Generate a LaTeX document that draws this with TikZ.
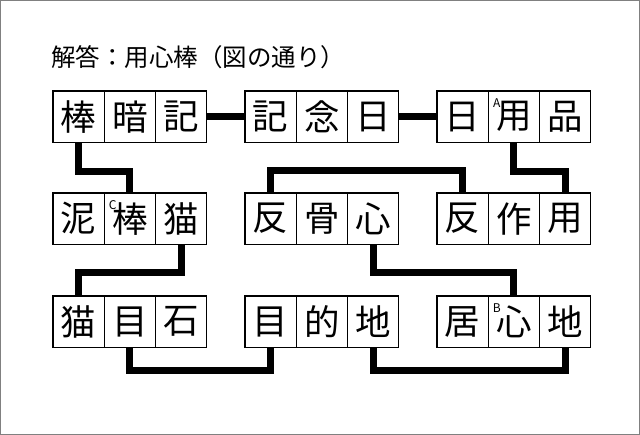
\documentclass[tikz,border=0pt]{standalone}
\usepackage{fontspec}
\newfontfamily\cjk{Noto Sans CJK JP}
\usetikzlibrary{positioning}

\begin{document}
\begin{tikzpicture}[x=1pt, y=-1pt, cell/.style={draw, line width=1.1pt, minimum size=51.3pt, inner sep=0pt, outer sep=0pt, font=\cjk\fontsize{35.5}{35.5}\selectfont}, link/.style={line width=7pt}, tag/.style={inner sep=0pt, font=\cjk\fontsize{12}{12}\selectfont}]
	\useasboundingbox (0,0) rectangle (640,435);
	\draw[gray, line width=1pt] (0.5,0.5) rectangle (639.5,434.5);
	\node[anchor=west, inner sep=0pt, font=\cjk\fontsize{24.5}{24.5}\selectfont] (title) at (51,57) {解答：用心棒（図の通り）};
	% three words per row
	\foreach \n/\x/\y/\p/\q/\r in {a/53/91/棒/暗/記, b/245/91/記/念/日, c/437/91/日/用/品, d/53/193/泥/棒/猫, e/245/193/反/骨/心, f/437/193/反/作/用, g/53/296/猫/目/石, h/245/296/目/的/地, i/437/296/居/心/地} {
		\node[cell] (\n1) at (\x+25.65,\y+25.65) {\p};
		\node[cell, right=0pt of \n1] (\n2) {\q};
		\node[cell, right=0pt of \n2] (\n3) {\r};
	}
	\node[tag] (ta) at ([shift={(8.5,12)}]c2.north west) {A};
	\node[tag] (tb) at ([shift={(8.5,12)}]i2.north west) {B};
	\node[tag] (tc) at ([shift={(8.5,12)}]d2.north west) {C};
	\draw[link] (a3.east) -- (b1.west);
	\draw[link] (b3.east) -- (c1.west);
	\draw[link] (a1.south) -- ++(0,29) -| (d2.north);
	\draw[link] (c2.south) -- ++(0,29) -| (f3.north);
	\draw[link] (e1.north) -- ++(0,-22) -| (f1.north);
	\draw[link] (d3.south) -- ++(0,28) -| (g1.north);
	\draw[link] (e3.south) -- ++(0,28) -| (i2.north);
	\draw[link] (g2.south) -- ++(0,23) -| (h1.south);
	\draw[link] (h3.south) -- ++(0,23) -| (i3.south);
\end{tikzpicture}
\end{document}
